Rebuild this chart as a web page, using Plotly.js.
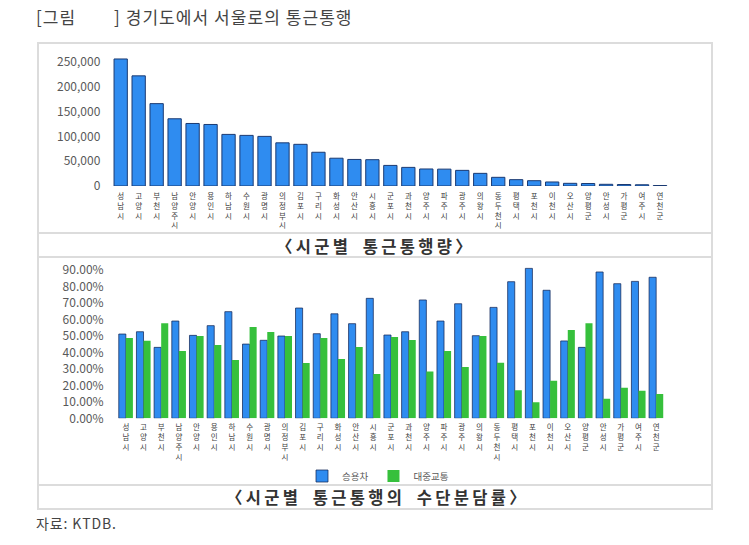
<!DOCTYPE html>
<html>
<head>
<meta charset="utf-8">
<script src="https://cdn.plot.ly/plotly-3.0.1.min.js"></script>
<style>
  html, body { margin: 0; padding: 0; background: #fff; }
  #chart { width: 749px; height: 545px; }
</style>
</head>
<body>
<div id="chart"></div>
<script>
// 시군 (통근통행량 순)
var cities = ["성남시", "고양시", "부천시", "남양주시", "안양시", "용인시", "하남시", "수원시",
  "광명시", "의정부시", "김포시", "구리시", "화성시", "안산시", "시흥시", "군포시", "과천시",
  "양주시", "파주시", "광주시", "의왕시", "동두천시", "평택시", "포천시", "이천시", "오산시",
  "양평군", "안성시", "가평군", "여주시", "연천군"];

// 통근통행량
var trips = [256000, 222000, 166000, 135500, 126000, 124000, 104000, 102000, 100000, 87000,
  84000, 68000, 56000, 53500, 53000, 41500, 37500, 34300, 34000, 31500, 25500, 17500,
  12800, 10700, 8100, 5400, 5000, 3400, 3000, 2500, 1000];

// 수단분담률
var carShare = [0.512, 0.526, 0.431, 0.591, 0.504, 0.563, 0.648, 0.451, 0.474, 0.500,
  0.670, 0.514, 0.635, 0.575, 0.729, 0.506, 0.526, 0.719, 0.591, 0.696, 0.502, 0.674,
  0.830, 0.911, 0.778, 0.470, 0.431, 0.889, 0.818, 0.832, 0.857];
var transitShare = [0.488, 0.471, 0.577, 0.409, 0.500, 0.445, 0.354, 0.555, 0.524, 0.500,
  0.336, 0.488, 0.360, 0.433, 0.269, 0.494, 0.476, 0.285, 0.409, 0.312, 0.500, 0.338,
  0.170, 0.097, 0.228, 0.536, 0.577, 0.119, 0.186, 0.168, 0.148];

var yTicks1 = [0, 50000, 100000, 150000, 200000, 250000];
var yTicks2 = [0, 0.1, 0.2, 0.3, 0.4, 0.5, 0.6, 0.7, 0.8, 0.9];

// 세로쓰기 라벨
var vertLabels = cities.map(function (c) { return c.split("").join("<br>"); });

var W = 749, H = 545;
function px(x) { return x / W; }
function py(y) { return 1 - y / H; }

// 자간 넓히기 (글자 사이에 얇은 공백)
function spaced(words, sep, wordGap) {
  return words.map(function (w) { return w.split("").join(sep); }).join(sep + wordGap + sep);
}

var font = "'Noto Sans CJK KR', 'Noto Sans', sans-serif";
var blue = "#2f8cf0";
var green = "#36c03c";
var borderColor = "#dcdcdc";
var thin = "\u2009", hair = "\u200a", en = "\u2002";

var traces = [
  {
    type: "bar",
    x: cities,
    y: trips,
    width: 0.74,
    xaxis: "x",
    yaxis: "y",
    marker: { color: blue, line: { color: "#1b3a72", width: 1 } },
    showlegend: false,
    hoverinfo: "x+y"
  },
  {
    type: "bar",
    name: "승용차",
    x: cities,
    y: carShare,
    xaxis: "x2",
    yaxis: "y2",
    marker: { color: blue, line: { color: "rgba(20,40,90,0.75)", width: 1 } }
  },
  {
    type: "bar",
    name: "대중교통",
    x: cities,
    y: transitShare,
    xaxis: "x2",
    yaxis: "y2",
    marker: { color: green }
  }
];

var tickFont = { family: font, size: 12, color: "#595959" };
var catFont = { family: font, size: 7.5, color: "#404040" };

var layout = {
  width: W,
  height: H,
  margin: { l: 0, r: 0, t: 0, b: 0 },
  paper_bgcolor: "#fff",
  plot_bgcolor: "rgba(0,0,0,0)",
  barmode: "group",
  bargap: 0.2,
  bargroupgap: 0,
  font: { family: font },
  xaxis: {
    domain: [px(111.7), px(669)],
    anchor: "y",
    tickmode: "array",
    tickvals: cities,
    ticktext: vertLabels,
    tickangle: 0,
    tickfont: catFont,
    showgrid: false,
    zeroline: false,
    showline: false,
    ticks: "outside",
    ticklen: 3,
    tickcolor: "rgba(0,0,0,0)"
  },
  yaxis: {
    domain: [py(186), py(56)],
    anchor: "x",
    range: [0, 262000],
    tickmode: "array",
    tickvals: yTicks1,
    ticktext: yTicks1.map(function (v) { return v.toLocaleString("en-US"); }),
    tickfont: tickFont,
    showgrid: false,
    zeroline: false,
    showline: false,
    ticks: "outside",
    ticklen: 8,
    tickcolor: "rgba(0,0,0,0)"
  },
  xaxis2: {
    domain: [px(117), px(665)],
    anchor: "y2",
    tickmode: "array",
    tickvals: cities,
    ticktext: vertLabels,
    tickangle: 0,
    tickfont: catFont,
    showgrid: false,
    zeroline: false,
    showline: false,
    ticks: "outside",
    ticklen: 2,
    tickcolor: "rgba(0,0,0,0)"
  },
  yaxis2: {
    domain: [py(418.3), py(266.9)],
    anchor: "x2",
    range: [0, 0.92],
    tickmode: "array",
    tickvals: yTicks2,
    ticktext: yTicks2.map(function (v) { return (v * 100).toFixed(2) + "%"; }),
    tickfont: tickFont,
    showgrid: false,
    zeroline: false,
    showline: false,
    ticks: "outside",
    ticklen: 10,
    tickcolor: "rgba(0,0,0,0)"
  },
  legend: {
    orientation: "h",
    x: px(378),
    xanchor: "center",
    y: py(476),
    yanchor: "middle",
    font: { family: font, size: 9.5, color: "#595959" },
    itemwidth: 30,
    bgcolor: "rgba(0,0,0,0)"
  },
  shapes: [
    { type: "rect", xref: "paper", yref: "paper", x0: px(38), x1: px(712), y0: py(43), y1: py(509),
      line: { color: borderColor, width: 2 } },
    { type: "line", xref: "paper", yref: "paper", x0: px(38), x1: px(712), y0: py(233), y1: py(233),
      line: { color: borderColor, width: 2 } },
    { type: "line", xref: "paper", yref: "paper", x0: px(38), x1: px(712), y0: py(257), y1: py(257),
      line: { color: borderColor, width: 2 } },
    { type: "line", xref: "paper", yref: "paper", x0: px(38), x1: px(712), y0: py(485), y1: py(485),
      line: { color: borderColor, width: 2 } }
  ],
  annotations: [
    { text: spaced(["[그림"], hair, ""),
      xref: "paper", yref: "paper", x: px(34), y: py(17), xanchor: "left", yanchor: "middle",
      showarrow: false, font: { family: font, size: 17, color: "#444" } },
    { text: spaced(["]", "경기도에서", "서울로의", "통근통행"], hair, " "),
      xref: "paper", yref: "paper", x: px(112), y: py(17), xanchor: "left", yanchor: "middle",
      showarrow: false, font: { family: font, size: 17, color: "#444" } },
    { text: "<b>" + spaced(["〈시군별", "통근통행량〉"], thin, en) + "</b>",
      xref: "paper", yref: "paper", x: px(374), y: py(246), xanchor: "center", yanchor: "middle",
      showarrow: false, font: { family: font, size: 16.5, color: "#333" } },
    { text: "<b>" + spaced(["〈시군별", "통근통행의", "수단분담률〉"], thin, en) + "</b>",
      xref: "paper", yref: "paper", x: px(376), y: py(497), xanchor: "center", yanchor: "middle",
      showarrow: false, font: { family: font, size: 16.5, color: "#333" } },
    { text: spaced(["자료:", "KTDB."], hair, " "),
      xref: "paper", yref: "paper", x: px(34), y: py(523), xanchor: "left", yanchor: "middle",
      showarrow: false, font: { family: font, size: 14, color: "#444" } }
  ]
};

Plotly.newPlot("chart", traces, layout, { displayModeBar: false, staticPlot: true });
</script>
</body>
</html>
